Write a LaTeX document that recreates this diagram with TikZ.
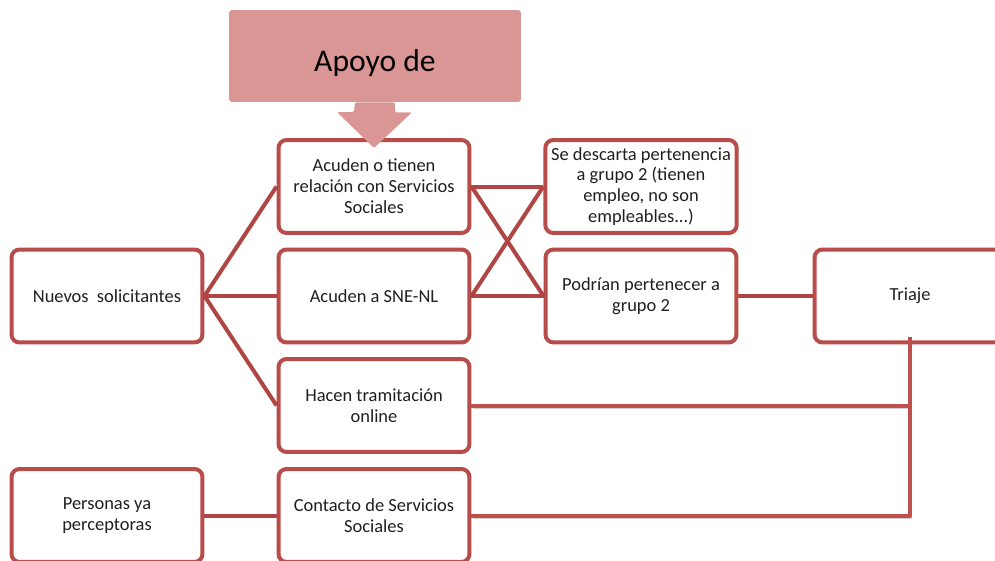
\documentclass[tikz,border=0pt]{standalone}
\usepackage{fontspec}
\setmainfont{Carlito}

\definecolor{boxred}{RGB}{184,76,74}
\definecolor{edgered}{RGB}{176,70,68}
\definecolor{linkred}{RGB}{192,80,77}
\definecolor{apoyopink}{RGB}{218,150,148}

\begin{document}
\begin{tikzpicture}[x=0.02cm,y=-0.02cm]
\tikzset{box/.style = {shape=rectangle,draw=boxred,line width=0.08cm,rounded corners=0.16cm,minimum width=3.82cm,minimum height=1.86cm,align=center,text=black!88,font=\fontsize{10.5}{11.9}\selectfont}}
\tikzset{header/.style = {shape=rectangle,fill=apoyopink,rounded corners=0.06cm,minimum width=5.84cm,minimum height=1.84cm}}
\tikzset{edge/.style = {draw=edgered,line width=0.08cm}}
\tikzset{link/.style = {draw=linkred,line width=0.08cm,line join=round,preaction={draw=black!18,transform canvas={xshift=1pt,yshift=-1.5pt}}}}
\tikzset{bigarrow/.style = {fill=apoyopink,rounded corners=0.03cm}}
\useasboundingbox (0,0) rectangle (995,561);
\clip (0,0) rectangle (995,561);
% header
\node[header] (apoyo) at (375,56) {};
\node[font=\fontsize{18}{21}\selectfont,text=black] (apoyolabel) at (375,63) {Apoyo de};
% boxes
\node[box] (nuevos)    at (107,296)   {Nuevos\ \ solicitantes};
\node[box] (personas)  at (107,515.5) {Personas ya\\perceptoras};
\node[box] (acuden)    at (374,186.5) {Acuden o tienen\\relación con Servicios\\Sociales};
\node[box] (sne)       at (374,296)   {Acuden a SNE-NL};
\node[box] (online)    at (374,405.5) {Hacen tramitación\\online};
\node[box] (contacto)  at (374,515.5) {Contacto de Servicios\\Sociales};
\node[box] (descarta)  at (641,186.5) {Se descarta pertenencia\\a grupo 2 (tienen\\empleo, no son\\empleables...)};
\node[box] (podrian)   at (641,296)   {Podrían pertenecer a\\grupo 2};
\node[box] (triaje)    at (910,296)   {Triaje};
% edges
\draw[edge] (nuevos.east) -- (acuden.west);
\draw[edge] (nuevos.east) -- (sne.west);
\draw[edge] (nuevos.east) -- (online.west);
\draw[edge] (acuden.east) -- (descarta.west);
\draw[edge] (sne.east) -- (podrian.west);
\draw[edge] (acuden.east) -- (podrian.west);
\draw[edge] (sne.east) -- (descarta.west);
\draw[edge] (podrian.east) -- (triaje.west);
\draw[edge] (personas.east) -- (contacto.west);
\draw[link] (online.east) -- (online.east -| triaje.south);
\draw[link] (contacto.east) -| ([yshift=0.14cm]triaje.south);
% arrow
\fill[bigarrow] ([xshift=-0.4cm]apoyo.south) -- ([xshift=0.4cm]apoyo.south) -- ++(0,10) -- ++(17,0)
  -- ([yshift=-0.2cm]acuden.north) -- ++(-37,-36) -- ++(17,0) -- cycle;
\end{tikzpicture}
\end{document}
